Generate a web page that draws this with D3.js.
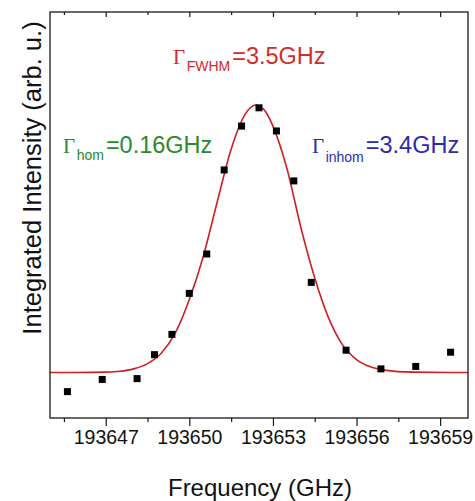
<!DOCTYPE html>
<html>
<head>
<meta charset="utf-8">
<script src="https://cdn.jsdelivr.net/npm/d3@7"></script>
<style>
  html, body { margin: 0; padding: 0; background: #fff; }
  svg { display: block; }
  text { font-family: "Liberation Sans", Arial, sans-serif; }
</style>
</head>
<body>
<svg id="chart" width="475" height="501"></svg>
<script>
// ---- data ----
const freqGHz = [193645.625, 193646.875, 193648.125, 193648.75, 193649.375, 193650.0,
  193650.625, 193651.25, 193651.875, 193652.5, 193653.125, 193653.75, 193654.375,
  193655.625, 193656.875, 193658.125, 193659.375];
const intensity = [6.5, 9.5, 9.7, 15.6, 20.6, 30.7, 40.4, 61.1, 71.9, 76.4, 70.7, 58.4,
  33.4, 16.7, 12.1, 12.7, 16.2];

// fitted (Voigt) curve
const fitFreq = [193645, 193646, 193647, 193647.5, 193648, 193648.5, 193649, 193649.5,
  193650, 193650.5, 193651, 193651.5, 193652, 193652.4, 193652.75, 193653, 193653.5,
  193654, 193654.5, 193655, 193655.5, 193656, 193656.5, 193657, 193658, 193660];
const fitIntensity = [11.2, 11.2, 11.3, 11.5, 12.1, 13.4, 16.0, 21.0, 29.2, 39.8, 53.2,
  66.2, 74.8, 77.1, 75.3, 71.9, 61.5, 47.0, 34.5, 24.6, 18.0, 14.4, 12.6, 11.8, 11.3, 11.2];

const majorTicks = [193647, 193650, 193653, 193656, 193659];
const minorTicks = [193645.5, 193648.5, 193651.5, 193654.5, 193657.5];
const xDomain = [193645, 193660];
const yDomain = [0, 100];

const xTitle = "Frequency (GHz)";
const yTitle = "Integrated Intensity (arb. u.)";

// ---- layout ----
const svg = d3.select("#chart");
const L = 50, R = 468, T = 12, B = 418;

const x = d3.scaleLinear().domain(xDomain).range([L, R]);
const y = d3.scaleLinear().domain(yDomain).range([B, T]);

// fit curve
const fitData = fitFreq.map((f, i) => [f, fitIntensity[i]]);
svg.append("path")
  .datum(fitData)
  .attr("fill", "none")
  .attr("stroke", "#cc1f24")
  .attr("stroke-width", 1.6)
  .attr("d", d3.line().x(d => x(d[0])).y(d => y(d[1])).curve(d3.curveMonotoneX));

// data points (squares)
const pts = freqGHz.map((f, i) => [f, intensity[i]]);
const s = 7;
svg.append("g").selectAll("rect").data(pts).join("rect")
  .attr("x", d => x(d[0]) - s / 2)
  .attr("y", d => y(d[1]) - s / 2)
  .attr("width", s).attr("height", s)
  .attr("fill", "#000");

// frame
svg.append("rect")
  .attr("x", L).attr("y", T).attr("width", R - L).attr("height", B - T)
  .attr("fill", "none").attr("stroke", "#1a1a1a").attr("stroke-width", 1.3);

// bottom axis: major ticks with labels (outward)
const gB = svg.append("g").attr("transform", `translate(0,${B})`)
  .call(d3.axisBottom(x).tickValues(majorTicks).tickFormat(d3.format("d")).tickSize(8).tickPadding(7));
gB.select(".domain").remove();
gB.selectAll("line").attr("stroke", "#1a1a1a").attr("stroke-width", 1.2);
gB.selectAll("text").attr("font-size", 19.5).attr("fill", "#111")
  .attr("font-family", "'Liberation Sans', Arial, sans-serif").attr("dy", null).attr("y", 26);

// bottom minor ticks
const gBm = svg.append("g").attr("transform", `translate(0,${B})`)
  .call(d3.axisBottom(x).tickValues(minorTicks).tickFormat("").tickSize(4));
gBm.select(".domain").remove();
gBm.selectAll("line").attr("stroke", "#1a1a1a").attr("stroke-width", 1.2);

// top ticks (inward)
const gT = svg.append("g").attr("transform", `translate(0,${T})`)
  .call(d3.axisTop(x).tickValues(majorTicks).tickFormat("").tickSize(-5));
gT.select(".domain").remove();
gT.selectAll("line").attr("stroke", "#1a1a1a").attr("stroke-width", 1.2);
const gTm = svg.append("g").attr("transform", `translate(0,${T})`)
  .call(d3.axisTop(x).tickValues(minorTicks).tickFormat("").tickSize(-3));
gTm.select(".domain").remove();
gTm.selectAll("line").attr("stroke", "#1a1a1a").attr("stroke-width", 1.2);

// axis titles
svg.append("text")
  .attr("x", (L + R) / 2 + 1).attr("y", 496)
  .attr("text-anchor", "middle")
  .attr("font-size", 24).attr("fill", "#111")
  .text(xTitle);

svg.append("text")
  .attr("transform", "translate(40.5,178) rotate(-90)")
  .attr("text-anchor", "middle")
  .attr("font-size", 25.5).attr("fill", "#111")
  .text(yTitle);

// annotations: Γ_sub=value
function gammaLabel(xPos, yBase, sub, val, color, subDy) {
  const t = svg.append("text").attr("x", xPos).attr("y", yBase).attr("fill", color);
  t.append("tspan")
    .attr("font-family", "'Liberation Serif', 'Times New Roman', serif")
    .attr("font-size", 21).text("Γ");
  t.append("tspan")
    .attr("font-size", 14).attr("dy", subDy).attr("dx", 1.5).text(sub);
  t.append("tspan")
    .attr("font-size", 23.5).attr("dy", -subDy).attr("dx", 2).text("=" + val);
}
gammaLabel(173, 63.5, "FWHM", "3.5GHz", "#d42a2e", 7.5);
gammaLabel(63, 153, "hom", "0.16GHz", "#2a8a2e", 7);
gammaLabel(312, 153, "inhom", "3.4GHz", "#2b2bb0", 9);
</script>
</body>
</html>
